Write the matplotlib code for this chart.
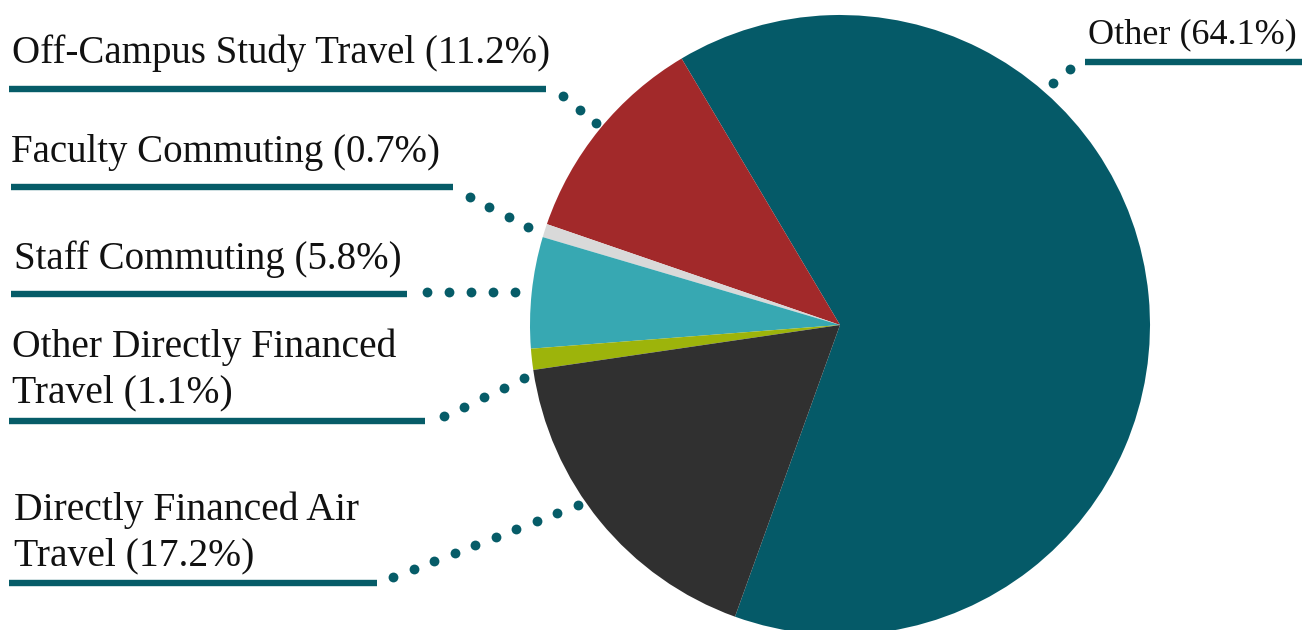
import numpy as np
import matplotlib
matplotlib.use("Agg")
import matplotlib.pyplot as plt

# Shares of travel emissions (%), pie order counter-clockwise from "Other".
categories = [
    "Other",
    "Off-Campus Study Travel",
    "Faculty Commuting",
    "Staff Commuting",
    "Other Directly Financed\nTravel",
    "Directly Financed Air\nTravel",
]
shares = [64.1, 11.2, 0.7, 5.8, 1.1, 17.2]
colors = ["#055a68", "#a2292a", "#d9d9d9", "#37a8b2", "#9db40b", "#303030"]

TEAL = "#065c68"
W, H = 1302, 630

# label layout in pixels: (text x, first baseline y, underline y, underline x0, x1, font size)
label_pos = [
    (1088, 43, 62, 1085, 1302, 26),
    (12, 63, 89, 9, 546, 28),
    (11, 162, 187, 11, 453, 28),
    (14, 269, 294, 11, 407, 28),
    (12, 357, 421, 9, 425, 28.5),
    (14, 520, 583, 9, 377, 28.5),
]
# dotted connectors: start px, end px, number of dots
connectors = [
    ((1053, 83), (1070, 69), 2),
    ((563, 96), (596, 123), 3),
    ((470, 197), (528, 227), 4),
    ((427, 292), (515, 292), 5),
    ((444, 416), (524, 378), 5),
    ((393, 577), (578, 505), 10),
]


def py(y):
    # pixel row (top-down) -> data y (bottom-up)
    return H - y


fig = plt.figure(figsize=(W / 100, H / 100), dpi=100)
ax = fig.add_axes([0, 0, 1, 1])

ax.pie(
    shares,
    colors=colors,
    startangle=250.2,
    counterclock=True,
    center=(840, py(325)),
    radius=310,
    frame=True,
    wedgeprops=dict(linewidth=0.6, edgecolor="none"),
)

for cat, share, (tx, by, uy, ux0, ux1, fs) in zip(categories, shares, label_pos):
    lines = f"{cat} ({share}%)".split("\n")
    for k, line in enumerate(lines):
        ax.text(
            tx,
            py(by + 45 * k),
            line,
            ha="left",
            va="baseline",
            fontsize=fs,
            family="Liberation Serif",
            color="#111111",
        )
    ax.plot([ux0, ux1], [py(uy), py(uy)], color=TEAL, lw=4.6, solid_capstyle="butt")

for (x0, y0), (x1, y1), n in connectors:
    xs = np.linspace(x0, x1, n)
    ys = np.linspace(py(y0), py(y1), n)
    ax.scatter(xs, ys, s=50, color=TEAL, linewidths=0, zorder=4)

ax.set_xlim(0, W)
ax.set_ylim(0, H)
ax.set_aspect("auto")
ax.axis("off")

fig.savefig("out.png", dpi=100)
